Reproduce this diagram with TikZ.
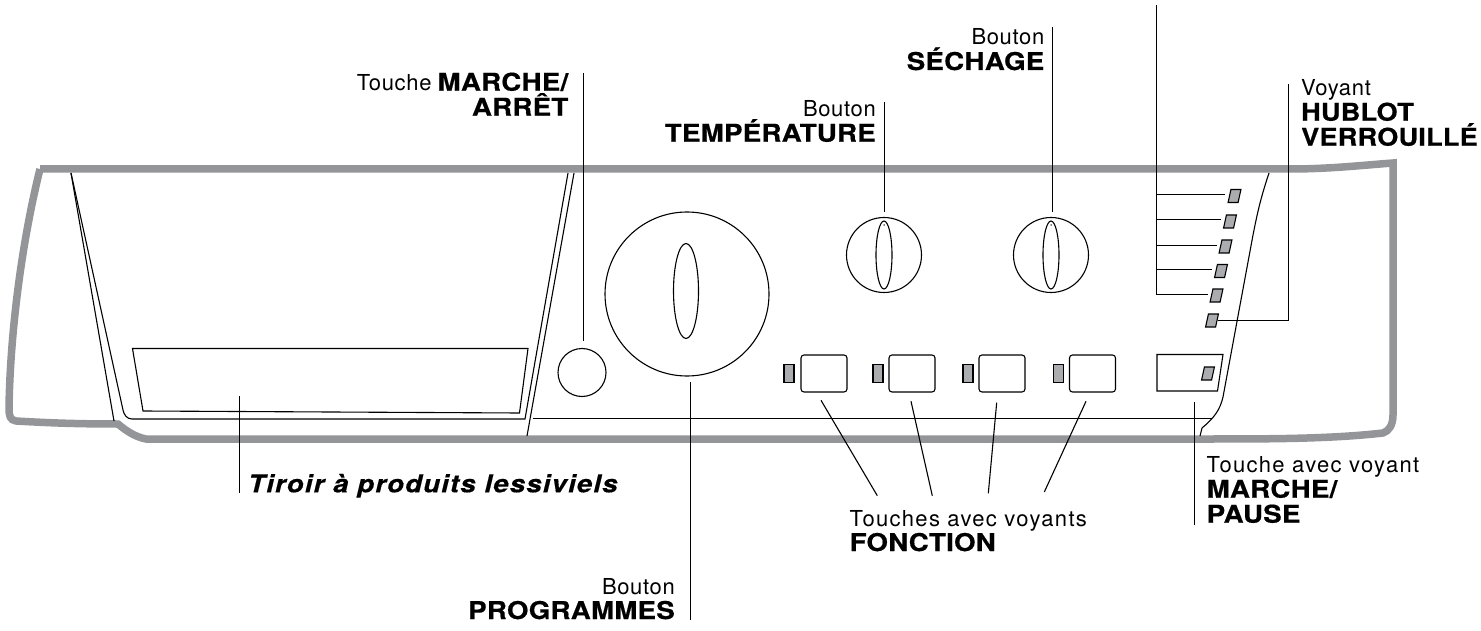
\documentclass[tikz,border=0pt]{standalone}
\usepackage{fontspec}
\usetikzlibrary{shapes.geometric}
\setmainfont{TeX Gyre Heros}
\newfontfamily\finfont[LetterSpace=3]{TeX Gyre Heros}
\newfontfamily\largefont[LetterSpace=6]{TeX Gyre Heros}
\newfontfamily\grasfont[FakeStretch=1.13,LetterSpace=1,FakeBold=0.6]{TeX Gyre Heros}
\newfontfamily\serrefont[FakeStretch=1.105,LetterSpace=1,FakeBold=0.6]{TeX Gyre Heros}
\newfontfamily\tirfont[FakeStretch=1.13,LetterSpace=4.5,FakeBold=0.4]{TeX Gyre Heros}
\newcommand{\fin}[1]{{\finfont\fontsize{22}{25}\selectfont #1}}
\newcommand{\ecart}[1]{{\largefont\fontsize{22}{25}\selectfont #1}}
\newcommand{\gras}[1]{{\grasfont\bfseries\fontsize{24.5}{25}\selectfont #1}}
\newcommand{\serre}[1]{{\serrefont\bfseries\fontsize{24.5}{25}\selectfont #1}}
\definecolor{bord}{RGB}{147,149,152}
\definecolor{led}{RGB}{170,172,175}
\tikzset{x=1pt,y=-1pt,
         trait/.style={draw=black,line width=1.1pt},
         cadre/.style={draw=bord,line width=7.5pt,line join=miter},
         fil/.style={draw=black,line width=1.1pt},
         touche/.style={draw,line width=1.1pt,rounded corners=3pt,minimum width=46pt,minimum height=37pt,inner sep=0pt},
         voyantv/.style={draw,line width=1.1pt,fill=led,minimum width=10pt,minimum height=18pt,inner sep=0pt},
         voyantp/.style={draw,line width=1.1pt,fill=led,xslant=0.22,transform shape,minimum width=10pt,minimum height=13pt,inner sep=0pt},
         molette/.style={draw,line width=1.1pt,circle,inner sep=0pt},
         fente/.style={draw,line width=1.1pt,ellipse,inner sep=0pt},
         repere/.style={circle,fill=black,inner sep=0pt,minimum size=1.5pt},
         texte/.style={inner sep=0pt,font=\fontsize{22}{25}\selectfont}
        }
\begin{document}
\begin{tikzpicture}
\useasboundingbox (0,0) rectangle (1481,631);
\draw[cadre] (40,169) -- (1290,169) .. controls (1330,169) and (1365,165) .. (1393,163) -- (1393,415)
  .. controls (1393,425) and (1389,431) .. (1383,433) .. controls (1330,439) and (1270,439) .. (1200,439) -- (146,439)
  .. controls (135,437) and (125,430) .. (118,424) .. controls (80,424) and (50,423) .. (16,421)
  .. controls (10,420) and (9,416) .. (9,408) .. controls (10,340) and (20,250) .. (40,169);

\draw[trait] (71,173) -- (114,421);
\draw[trait] (71,173) -- (123,410) .. controls (124,415) and (127,419) .. (132,419) -- (525,419) -- (568,173);
\draw[trait] (574,173) -- (527,436);
\draw[trait] (533,418.5) -- (1212,418.5);
\draw[trait] (132.5,348.5) -- (528,348.5) -- (519.5,413) -- (143,411) -- cycle;
\draw[trait] (1269,173) .. controls (1260,200) and (1257,215) .. (1253,235) -- (1223,397)
  .. controls (1220,410) and (1214,418) .. (1202,428) -- (1200,436);

\node[molette,minimum size=48pt] at (582,372.5) (marche) {};
\node[molette,minimum size=164pt] at (687,294) (prog) {};
\node[fente,minimum width=25pt,minimum height=95pt] at (686,291) (progb) {};
\node[molette,minimum size=75pt] at (884,255) (temp) {};
\node[fente,minimum width=16pt,minimum height=68pt] at (884,255) (tempb) {};
\node[repere] at (884,225) (tempr) {};
\node[molette,minimum size=75pt] at (1051,255) (sech) {};
\node[fente,minimum width=16pt,minimum height=68pt] at (1051,255) (sechb) {};
\node[repere] at (1051,225) (sechr) {};

\foreach \i/\xt/\xv in {1/824/789,2/912/878,3/1002/968,4/1092.5/1058.5}{
  \node[touche] at (\xt,373.5) (t\i) {};
  \node[voyantv] at (\xv,373.5) (v\i) {};
}
\draw[trait] (1157,354.5) -- (1223,354.5) -- (1217.5,391) -- (1157,391) -- cycle;
\node[voyantp] at (1208,373.5) (vp) {};

\foreach \i/\xl/\yl in {1/1234.5/196,2/1230/221.5,3/1225.5/246.5,4/1221/271,5/1216.5/295.5,6/1212/320.5}{
  \node[voyantp] at (\xl,\yl) (l\i) {};
}

\coordinate (bh) at (1156.5,5);
\coordinate (bb) at (1156.5,294.5);
\coordinate (c1) at (1156.5,194.5);
\coordinate (c2) at (1156.5,219.5);
\coordinate (c3) at (1156.5,245.5);
\coordinate (c4) at (1156.5,269.5);
\draw[fil] (bh) -- (bb) -- (1208,294.5);
\draw[fil] (c1) -- (1225,194.5);
\draw[fil] (c2) -- (1221,219.5);
\draw[fil] (c3) -- (1217,245.5);
\draw[fil] (c4) -- (1212,269.5);

\coordinate (vh) at (1288.5,84);
\draw[fil] (l6.east) -| (vh);

\node[texte,anchor=base east,align=right] at (568.5,115.7) (lmarche) {\fin{Touche} \gras{MARCHE/}\\\gras{ARRÊT}};
\node[texte,anchor=base east,align=right] at (876,141.7) (ltemp) {\fin{Bouton}\\\gras{TEMPÉRATURE}};
\node[texte,anchor=base east,align=right] at (1044.5,70) (lsech) {\fin{Bouton}\\\gras{SÉCHAGE}};
\node[texte,anchor=base west,align=left] at (1301,145.7) (lhub) {\fin{Voyant}\\\serre{HUBLOT}\\\serre{VERROUILLÉ}};
\node[texte,anchor=base west] at (248,492.3) (ltir) {\tirfont\bfseries\itshape\fontsize{24.5}{25}\selectfont Tiroir à produits lessiviels};
\node[texte,anchor=base west,align=left] at (1206.5,522.7) (lpause) {\ecart{Touche avec voyant}\\\gras{MARCHE/}\\\gras{PAUSE}};
\node[texte,anchor=base west,align=left] at (849.5,551) (lfonc) {\ecart{Touches avec voyants}\\\gras{FONCTION}};
\node[texte,anchor=base east,align=right] at (675,619) (lprog) {\fin{Bouton}\\\gras{PROGRAMMES}};

\coordinate (a1) at (583.5,73);
\coordinate (a2) at (583.5,340.7);
\draw[fil] (a1) -- (a2);
\coordinate (a3) at (884.5,101.7);
\coordinate (a4) at (884.5,212);
\draw[fil] (a3) -- (a4);
\coordinate (a5) at (1052.5,26.7);
\coordinate (a6) at (1052.5,211.7);
\draw[fil] (a5) -- (a6);
\coordinate (a7) at (239.5,396);
\coordinate (a8) at (239.5,493);
\draw[fil] (a7) -- (a8);
\coordinate (a9) at (690.5,382);
\coordinate (a10) at (690.5,620);
\draw[fil] (a9) -- (a10);
\coordinate (a11) at (1194.5,402);
\coordinate (a12) at (1194.5,525);
\draw[fil] (a11) -- (a12);
\draw[fil] (821,400.3) -- (877.3,495.7);
\draw[fil] (911,401.3) -- (932.3,495.7);
\draw[fil] (996.7,402.7) -- (988.3,493.3);
\draw[fil] (1086,401.3) -- (1044.3,492);
\end{tikzpicture}
\end{document}
